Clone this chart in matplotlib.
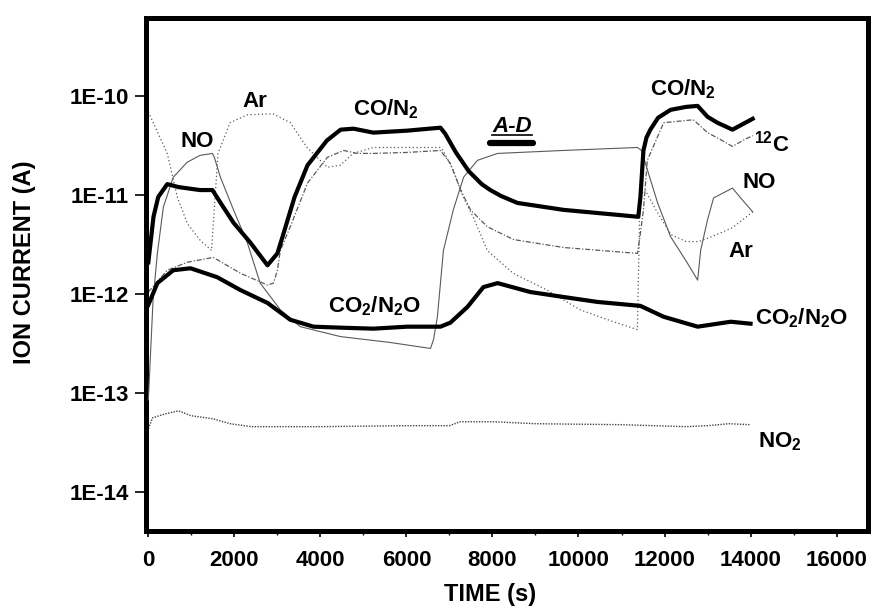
import numpy as np
import matplotlib
matplotlib.use("Agg")
import matplotlib.pyplot as plt
from matplotlib.ticker import FixedLocator, MultipleLocator, FuncFormatter, NullLocator

plt.rcParams["font.family"] = ["Liberation Sans", "DejaVu Sans"]
plt.rcParams["font.weight"] = "bold"
plt.rcParams["mathtext.default"] = "regular"

# ---------------------------------------------------------------- data
# time (s) and log10(ion current / A)
CON2_T = [0, 60, 120, 230, 440, 700, 1200, 1490, 1680, 1980, 2370, 2770, 3000,
          3100, 3400, 3700, 4150, 4470, 4770, 5230, 6020, 6790, 6900, 7150, 7450,
          7750, 7950, 8200, 8580, 9650, 11390, 11440, 11510, 11580, 11670, 11850,
          12140, 12500, 12770, 13000, 13230, 13580, 14050]
CON2_L = [-11.68, -11.45, -11.22, -11.02, -10.89, -10.92, -10.95, -10.95, -11.08,
          -11.28, -11.48, -11.71, -11.59, -11.45, -11.02, -10.70, -10.45, -10.34,
          -10.33, -10.37, -10.35, -10.32, -10.38, -10.57, -10.76, -10.89, -10.95,
          -11.01, -11.08, -11.15, -11.22, -11.02, -10.55, -10.42, -10.34, -10.22,
          -10.14, -10.11, -10.10, -10.21, -10.27, -10.34, -10.23]

NO_T = [0, 110, 210, 350, 580, 900, 1200, 1490, 1535, 1675, 1980, 2300, 2600,
        3070, 3535, 4465, 5630, 6560, 6630, 6720, 6860, 7090, 7330, 7650, 8120,
        9650, 11370, 11465, 11605, 11840, 12140, 12535, 12770, 12840, 13000,
        13140, 13580, 13770, 14050]
NO_L = [-13.07, -12.06, -11.59, -11.12, -10.82, -10.67, -10.60, -10.58, -10.62,
        -10.82, -11.15, -11.48, -11.89, -12.16, -12.33, -12.43, -12.49, -12.55,
        -12.46, -12.23, -11.56, -11.15, -10.82, -10.65, -10.58, -10.55, -10.52,
        -10.55, -10.75, -11.08, -11.42, -11.69, -11.86, -11.56, -11.25, -11.03,
        -10.93, -11.03, -11.17]

AR_T = [0, 440, 680, 910, 1210, 1470, 1510, 1620, 1900, 2300, 2900, 3300, 3690,
        4160, 4460, 4760, 5230, 6780, 6850, 7090, 7320, 7550, 7880, 8480, 9270,
        10040, 10810, 11370, 11430, 11550, 11800, 12150, 12500, 12800, 13100,
        13580, 14050]
AR_L = [-10.16, -10.58, -11.03, -11.29, -11.46, -11.56, -11.29, -10.58, -10.27,
        -10.19, -10.18, -10.27, -10.52, -10.72, -10.70, -10.58, -10.52, -10.52,
        -10.55, -10.75, -11.02, -11.22, -11.56, -11.79, -11.96, -12.16, -12.28,
        -12.36, -11.00, -10.95, -11.15, -11.40, -11.47, -11.47, -11.42, -11.33,
        -11.17]

C12_T = [0, 440, 900, 1140, 1510, 2140, 2770, 2910, 3000, 3070, 3300, 3700,
         4160, 4540, 4860, 5230, 6020, 6790, 7020, 7260, 7490, 7880, 8490, 9650,
         11370, 11420, 11510, 11600, 11980, 12670, 13000, 13300, 13580, 13860,
         14050]
C12_L = [-11.98, -11.76, -11.68, -11.66, -11.63, -11.79, -11.91, -11.89, -11.76,
         -11.56, -11.32, -10.88, -10.62, -10.55, -10.58, -10.58, -10.57, -10.55,
         -10.68, -10.95, -11.15, -11.32, -11.45, -11.53, -11.59, -11.45, -11.15,
         -10.65, -10.27, -10.24, -10.37, -10.44, -10.51, -10.44, -10.40]

CO2_T = [0, 210, 580, 980, 1600, 2140, 2770, 3300, 3840, 4470, 5230, 6020, 6790,
         7020, 7420, 7790, 8120, 8880, 9650, 10440, 11440, 11980, 12770, 13540,
         14000]
CO2_L = [-12.11, -11.89, -11.76, -11.74, -11.83, -11.96, -12.09, -12.26, -12.33,
         -12.34, -12.35, -12.33, -12.33, -12.29, -12.13, -11.93, -11.89, -11.98,
         -12.03, -12.08, -12.12, -12.23, -12.33, -12.28, -12.30]

NO2_T = [0, 100, 400, 700, 1000, 1500, 1900, 2400, 4000, 6000, 7000, 7250, 8000,
         9000, 11000, 12500, 13000, 13500, 14000]
NO2_L = [-13.36, -13.25, -13.21, -13.18, -13.23, -13.26, -13.31, -13.34, -13.34,
         -13.33, -13.33, -13.29, -13.29, -13.31, -13.32, -13.34, -13.33, -13.31,
         -13.32]

AD_SPAN = [7950, 8950]      # the "A-D" interval bar
AD_LEVEL = 3.35e-11

YTICKS = [1e-14, 1e-13, 1e-12, 1e-11, 1e-10]


def cur(logs):
    return 10.0 ** np.asarray(logs)


# ---------------------------------------------------------------- figure
fig = plt.figure(figsize=(8.72, 6.09), dpi=100)
ax = fig.add_axes([0.1669, 0.1281, 0.8280, 0.8424])

grey = "#5a5a5a"
ax.plot(NO2_T, cur(NO2_L), color="#444444", lw=1.0, ls=(0, (1, 1)), zorder=2)
ax.plot(AR_T, cur(AR_L), color=grey, lw=0.9, ls=(0, (1, 2)), zorder=2)
ax.plot(C12_T, cur(C12_L), color=grey, lw=0.9, ls=(0, (4, 1.5, 1, 1.5)), zorder=2)
ax.plot(NO_T, cur(NO_L), color=grey, lw=0.8, zorder=3)
ax.plot(CO2_T, cur(CO2_L), color="black", lw=3.0, zorder=4)
ax.plot(CON2_T, cur(CON2_L), color="black", lw=3.0, zorder=4)
ax.plot(AD_SPAN, [AD_LEVEL] * 2, color="black", lw=4.5, solid_capstyle="round", zorder=4)

ax.set_yscale("log")
ax.set_xlim(-65, 16720)
ax.set_ylim(4.04e-15, 6.14e-10)

ax.xaxis.set_major_locator(MultipleLocator(2000))
ax.xaxis.set_minor_locator(MultipleLocator(1000))
ax.yaxis.set_major_locator(FixedLocator(YTICKS))
ax.yaxis.set_minor_locator(NullLocator())
ax.yaxis.set_major_formatter(FuncFormatter(lambda v, p: f"1E{int(round(np.log10(v)))}"))

for s in ax.spines.values():
    s.set_linewidth(3.6)
ax.tick_params(axis="x", which="major", direction="out", length=4.5, width=1.2,
               pad=9, labelsize=16)
ax.tick_params(axis="x", which="minor", direction="out", length=3, width=1.0)
ax.tick_params(axis="y", which="major", direction="out", length=8, width=1.2,
               pad=4, labelsize=16)

fig.text(490 / 872, 1 - 595 / 609, "TIME (s)", ha="center", va="center",
         fontsize=17, weight="bold")
fig.text(24 / 872, 1 - 262 / 609, "ION CURRENT (A)", ha="center", va="center",
         rotation=90, fontsize=17, weight="bold")

# curve labels (left edge, baseline) in data units
lab = dict(fontsize=16, weight="bold", ha="left", va="baseline", zorder=6)
ax.text(737, 3.05e-11, "NO", **lab)
ax.text(2179, 7.7e-11, "Ar", **lab)
ax.text(4760, 6.4e-11, "CO/N$_2$", **lab)
ax.text(7993, 4.3e-11, "A-D", style="italic", **lab)
ax.plot([7993, 8930], [4.0e-11] * 2, color="black", lw=1.2)
ax.text(11667, 1.02e-10, "CO/N$_2$", **lab)
ax.text(14086, 2.78e-11, "$^{12}$C", **lab)
ax.text(13807, 1.18e-11, "NO", **lab)
ax.text(13481, 2.37e-12, "Ar", **lab)
ax.text(4179, 6.58e-13, "CO$_2$/N$_2$O", **lab)
ax.text(14109, 4.98e-13, "CO$_2$/N$_2$O", **lab)
ax.text(14179, 2.85e-14, "NO$_2$", **lab)

fig.savefig("out.png", dpi=100)
